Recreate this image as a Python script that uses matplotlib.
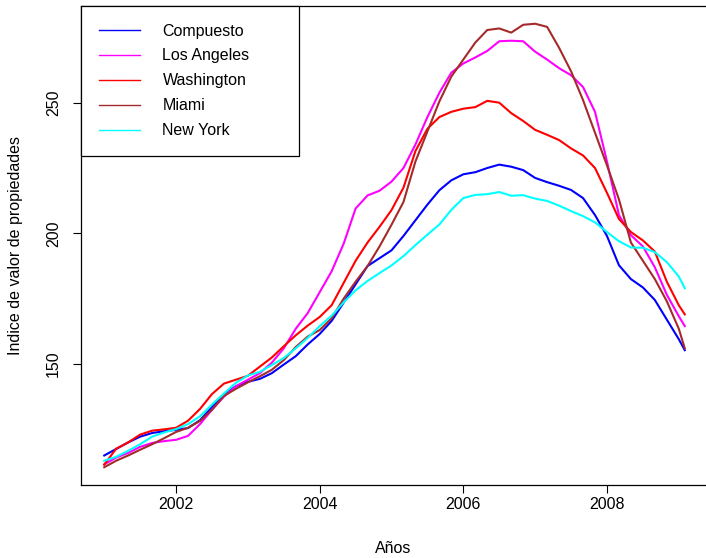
import numpy as np
import matplotlib
matplotlib.use("Agg")
import matplotlib.pyplot as plt

plt.rcParams["font.family"] = ["Liberation Sans", "DejaVu Sans"]

# readings every two months, Jan 2001 .. Jan 2009, plus Feb 2009
anios = [2001 + k / 6 for k in range(49)] + [2009 + 1 / 12]

compuesto = [115, 117.5, 120, 122.2, 123.6, 124.3, 124.8, 125.5, 128.5, 133.5,
             138.5, 141.5, 143.2, 144.3, 146.5, 149.8, 153, 157.5, 161.5, 166.5,
             173.5, 180.5, 187.5, 190.5, 193.5, 199, 205, 211, 216.5, 220.3,
             222.6, 223.4, 225, 226.3, 225.5, 224.2, 221.2, 219.6, 218.2, 216.6,
             213.5, 207, 199, 187.8, 182.5, 179.3, 174.5, 167, 159.5, 155.3]
los_angeles = [111.6, 114.2, 116, 118.3, 119.8, 120.5, 121, 122.5, 127, 132.5,
               137.5, 141.5, 144, 146.5, 150.5, 156, 163.5, 169.5, 177.5, 185.5,
               196, 209.5, 214.5, 216.3, 219.8, 225, 234, 244.5, 253.8, 261.5,
               265, 267.3, 269.8, 273.5, 273.7, 273.5, 269.5, 266.5, 263.2, 260.5,
               256, 246.5, 227.5, 207, 199.3, 195, 187, 176.5, 168.3, 164.5]
washington = [111.5, 117.6, 120, 123, 124.5, 125, 125.6, 128.3, 132.8, 138.5,
              142.5, 144, 145.5, 149, 152.5, 156.8, 161, 164.7, 168, 172.5,
              181, 189.5, 196.5, 202.5, 208.9, 217.5, 231.5, 240, 244.5, 246.5,
              247.7, 248.3, 250.7, 250, 246, 243, 239.6, 237.7, 235.7, 232.5,
              229.8, 225, 215.5, 205.5, 200.5, 197.3, 193, 181.5, 172.5, 169]
miami = [110.5, 113, 115, 117.2, 119.3, 121.6, 124, 125.6, 128.2, 132.5,
         137.8, 140.5, 143, 145.3, 147.8, 151.5, 156.5, 160.5, 163, 167.5,
         175, 181.5, 187.5, 195, 203.3, 212, 227.5, 239, 250.5, 260,
         266.5, 273, 277.8, 278.4, 276.8, 279.8, 280.2, 279, 271, 262,
         251, 238.5, 226, 213, 196.5, 189.5, 182.5, 174, 163.5, 156]
nueva_york = [113, 114.5, 116.8, 119.3, 122.2, 123.8, 125.1, 127, 130, 134.5,
              138.7, 142.8, 145.6, 147, 149.6, 152.3, 156, 160, 164.5, 168.5,
              173.6, 178.2, 181.8, 184.8, 187.7, 191.3, 195.5, 199.5, 203.4, 209,
              213.5, 214.7, 215, 215.8, 214.4, 214.6, 213.3, 212.4, 210.6, 208.5,
              206.6, 204.2, 200.5, 197, 194.6, 194.5, 192.8, 189, 183.5, 179]

series = [("Compuesto", compuesto, "#0000FF"),
          ("Los Angeles", los_angeles, "#FF00FF"),
          ("Washington", washington, "#FF0000"),
          ("Miami", miami, "#A52A2A"),
          ("New York", nueva_york, "#00FFFF")]

fig = plt.figure(figsize=(7.06, 5.58), dpi=100)
W, H = 706, 558
ax = fig.add_axes([81 / W, (H - 485) / H, (708 - 81) / W, (485 - 6) / H])

for name, vals, col in series:
    ax.plot(anios, vals, color=col, lw=1.5, label=name)

# R style 4% padding
t = np.array(anios)
allv = np.concatenate([np.array(v) for _, v, _ in series])
dx = (t.max() - t.min()) * 0.04
dy = (allv.max() - allv.min()) * 0.04
ax.set_xlim(t.min() - dx, t.max() + dx)
ax.set_ylim(allv.min() - dy, allv.max() + dy)

ax.set_xticks([2002, 2004, 2006, 2008])
ax.set_yticks([150, 200, 250])
ax.tick_params(axis="both", labelsize=11.5, length=5.8, width=0.8, direction="out")
ax.tick_params(axis="x", pad=2.5)
ax.tick_params(axis="y", pad=8.5, labelrotation=90)
for lab in ax.get_yticklabels():
    lab.set_va("center")
for s in ax.spines.values():
    s.set_linewidth(0.9)

ax.set_xlabel("Años", fontsize=11.5)
ax.set_ylabel("Indice de valor de propiedades", fontsize=11.5)
ax.xaxis.set_label_coords(0.5 - 1 / 627, -0.117)
ax.yaxis.set_label_coords(-0.093, 0.5)

leg = ax.legend(loc="upper left", bbox_to_anchor=(0, 1, 218 / 627, 0), mode="expand",
                borderaxespad=0, fancybox=False, edgecolor="black", framealpha=1,
                fontsize=11.5, handlelength=2.6, handletextpad=1.4,
                labelspacing=0.62, borderpad=1.1)
leg.get_frame().set_linewidth(0.9)
for ln in leg.get_lines():
    ln.set_linewidth(1.0)

fig.savefig("out.png", dpi=100)
